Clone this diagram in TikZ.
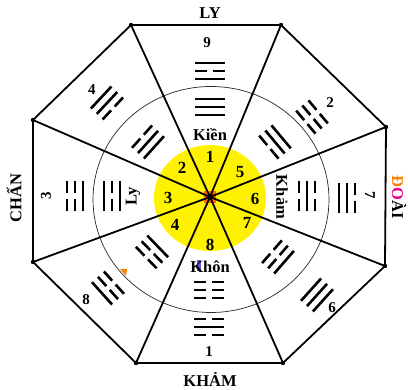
\documentclass[tikz,border=0pt]{standalone}
\usepackage{fontspec}
\setmainfont{Liberation Serif}
\newcommand{\trline}[2]{\ifnum#2=1 \draw[trig] (-15,#1) -- (15,#1);\else \draw[trig] (-15,#1) -- (-2.6,#1) (2.6,#1) -- (15,#1);\fi}
\newcommand{\trigram}[5]{%
  \begin{scope}[shift={#1}, rotate=#2-90]
    \trline{-8}{#3}\trline{0}{#4}\trline{8}{#5}
  \end{scope}}
\begin{document}
\begin{tikzpicture}[x=1pt,y=1pt,
  edge/.style={line width=1.8pt, line join=round},
  trig/.style={line width=2.6pt},
  lab/.style={font=\fontsize{16.5}{16.5}\selectfont\bfseries, inner sep=0pt},
  num/.style={font=\fontsize{15}{15}\selectfont\bfseries, inner sep=0pt},
  ynum/.style={font=\fontsize{17}{17}\selectfont\bfseries, inner sep=0pt},
  nm/.style={font=\fontsize{16.5}{16.5}\selectfont\bfseries, inner sep=0pt}]
\useasboundingbox[fill=white] (0,0) rectangle (408,390);
% key points
\coordinate (C) at (210,193);
\coordinate (TL) at (131,365);
\coordinate (TR) at (281,365);
\coordinate (RT) at (386,263);
\coordinate (RB) at (385,124);
\coordinate (BR) at (283,27);
\coordinate (BL) at (136,27);
\coordinate (LB) at (33,128);
\coordinate (LT) at (33,270);
% circles
\fill[yellow] (210,192) ellipse [x radius=56, y radius=53];
\draw[line width=0.7pt, black!85] (211,190.5) ellipse [x radius=118, y radius=113];
\fill[orange!85!red] (204,187) rectangle (216,199);
% octagon and spokes
\draw[edge] (TL) -- (TR) -- (RT) -- (RB) -- (BR) -- (BL) -- (LB) -- (LT) -- cycle;
\foreach \v in {TL,TR,RT,RB,BR,BL,LB,LT} {\draw[edge] (\v) -- (C); \fill (\v) circle (2.2);}
\fill (C) circle (3);
% small marks
\fill[orange] (120,121) -- (127,121) -- (126,114) -- cycle;
\fill[blue!55!violet!70] (197,119) rectangle (201,130);
% outer labels
\node[lab] (ly) at (210,377) {LY};
\node[lab] (kham) at (210,11) {KHẢM};
\node[lab, rotate=90] (chan) at (14,192) {CHẤN};
\node[lab, rotate=-90] (doai) at (399,193) {{\color{orange}Đ}{\color{magenta}O}ÀI};
% outer numbers
\node[num] (n9) at (207,347) {9};
\node[num] (n1) at (209,38) {1};
\node[num, rotate=90] (n3) at (46,194) {3};
\node[num, rotate=-90] (n7) at (370,195) {7};
\node[num] (n4) at (92,300) {4};
\node[num] (n2) at (330,287) {2};
\node[num] (n8) at (86,90) {8};
\node[num] (n6) at (332,82) {6};
% inner names
\node[nm] (kien) at (210,255) {Kiền};
\node[nm] (khon) at (210,123) {Khôn};
\node[nm, rotate=90] (lyin) at (133,194) {Ly};
\node[nm, rotate=-90] (khamin) at (282,193) {Khảm};
% yellow numbers
\node[ynum] (y1) at (210,233) {1};
\node[ynum] (y2) at (182,222) {2};
\node[ynum] (y3) at (168,192) {3};
\node[ynum] (y4) at (175,165) {4};
\node[ynum] (y5) at (240,218) {5};
\node[ynum] (y6) at (255,191) {6};
\node[ynum] (y7) at (247,167) {7};
\node[ynum] (y8) at (210,145) {8};
% outer trigrams (later heaven)
\trigram{(210,319)}{90}{1}{0}{1}
\trigram{(209,63)}{270}{0}{1}{0}
\trigram{(75,194)}{180}{1}{0}{0}
\trigram{(347,192)}{0}{1}{1}{0}
\trigram{(107,287)}{137}{0}{1}{1}
\trigram{(312,273)}{40}{0}{0}{0}
\trigram{(108,102)}{222}{0}{0}{1}
\trigram{(317,95)}{318}{1}{1}{1}
% inner trigrams (early heaven)
\trigram{(210,283)}{90}{1}{1}{1}
\trigram{(209,100)}{270}{0}{0}{0}
\trigram{(112,194)}{180}{1}{0}{1}
\trigram{(307,194)}{0}{0}{1}{0}
\trigram{(148,248)}{138}{1}{1}{0}
\trigram{(275,248)}{40}{0}{1}{1}
\trigram{(152,138)}{224}{1}{0}{0}
\trigram{(278,133)}{319}{0}{0}{1}
\end{tikzpicture}
\end{document}
